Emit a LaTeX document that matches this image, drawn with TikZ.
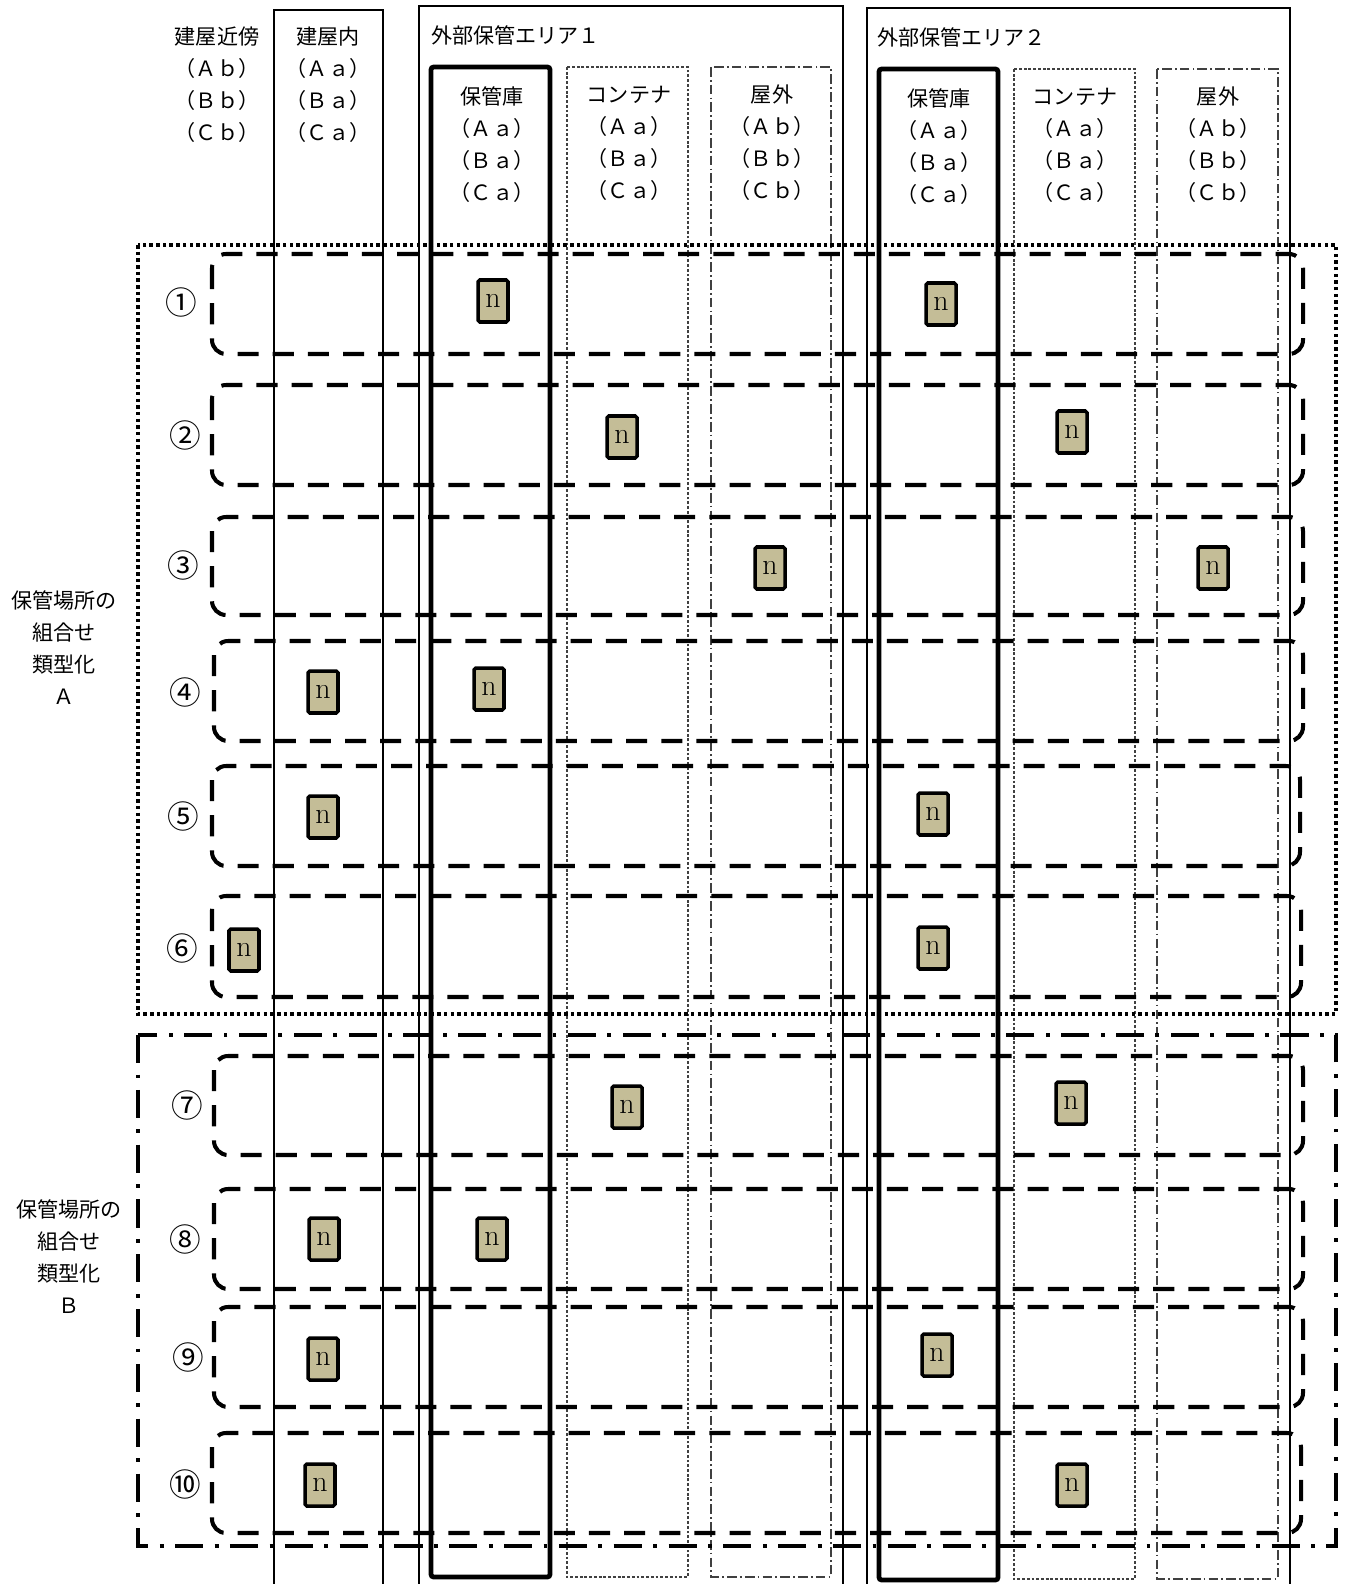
\documentclass[tikz,border=0pt]{standalone}
\usepackage{fontspec}
\newfontfamily\jpfont{Noto Sans CJK JP}
\usepackage{xcolor}
\definecolor{nfill}{HTML}{C4BD97}
\tikzset{
  areabox/.style={draw=black, line width=0.6pt},
  kobox/.style={draw=black, line width=2.7pt, rounded corners=1.5pt},
  contbox/.style={draw=black!75, line width=0.6pt, dash pattern=on 1.6pt off 1.1pt},
  outbox/.style={draw=black!75, line width=0.6pt, dash pattern=on 5.5pt off 1.8pt on 1pt off 1.8pt},
  rowbox/.style={draw=black, line width=2.3pt, rounded corners=8pt, dash pattern=on 12pt off 8pt},
  grpA/.style={draw=black, line width=2pt, dash pattern=on 2pt off 1.8pt},
  grpB/.style={draw=black, line width=2pt, dash pattern=on 16pt off 6.5pt on 2.2pt off 6.5pt},
  nbox/.style={draw=black, line width=2pt, fill=nfill, rounded corners=1pt, minimum width=0.6cm, minimum height=0.84cm, inner sep=0pt, font=\fontsize{17}{17}\selectfont},
  hdr/.style={font=\jpfont\fontsize{12}{18.2}\selectfont, align=center},
  num/.style={font=\jpfont\fontsize{18}{18}\selectfont}
}

\begin{document}
\begin{tikzpicture}[x=0.02cm, y=-0.02cm]
\useasboundingbox (0,0) rectangle (1346,1584);
\clip (0,0) rectangle (1346,1584);
% ---- columns ----
\draw[areabox] (274,10) rectangle (383,1600);
\draw[areabox] (419,6) rectangle (843,1600);
\draw[areabox] (867,8) rectangle (1290,1600);
\draw[kobox] (431,67) rectangle (550,1577);
\draw[contbox] (567,67) rectangle (688,1577);
\draw[outbox] (711,67) rectangle (831,1577);
\draw[kobox] (879,69) rectangle (998,1580);
\draw[contbox] (1014,69) rectangle (1135,1579);
\draw[outbox] (1157,69) rectangle (1278,1579);
% ---- headers ----
\node[hdr] (hKinbo) at (217,85) {建屋近傍\\（Ａｂ）\\（Ｂｂ）\\（Ｃｂ）};
\node[hdr] (hNai) at (328,85) {建屋内\\（Ａａ）\\（Ｂａ）\\（Ｃａ）};
\node[hdr, anchor=west] (hArea1) at (425,35) {外部保管エリア１};
\node[hdr] (hKo1) at (492,145) {保管庫\\（Ａａ）\\（Ｂａ）\\（Ｃａ）};
\node[hdr] (hCont1) at (629,143) {コンテナ\\（Ａａ）\\（Ｂａ）\\（Ｃａ）};
\node[hdr] (hOut1) at (772,143) {屋外\\（Ａｂ）\\（Ｂｂ）\\（Ｃｂ）};
\node[hdr, anchor=west] (hArea2) at (871,37) {外部保管エリア２};
\node[hdr] (hKo2) at (939,147) {保管庫\\（Ａａ）\\（Ｂａ）\\（Ｃａ）};
\node[hdr] (hCont2) at (1075,145) {コンテナ\\（Ａａ）\\（Ｂａ）\\（Ｃａ）};
\node[hdr] (hOut2) at (1218,145) {屋外\\（Ａｂ）\\（Ｂｂ）\\（Ｃｂ）};
% ---- groups ----
\draw[grpA] (138,245) rectangle (1336,1014);
\draw[grpB] (138,1035) rectangle (1336,1546);
\node[hdr] (gA) at (64,648) {保管場所の\\組合せ\\類型化\\Ａ};
\node[hdr] (gB) at (69,1257) {保管場所の\\組合せ\\類型化\\Ｂ};
% ---- rows ----
\draw[rowbox] (212,254) rectangle (1303,354);
\draw[rowbox] (212,385) rectangle (1303,485);
\draw[rowbox] (212,517) rectangle (1303,615);
\draw[rowbox] (214,641) rectangle (1303,741);
\draw[rowbox] (212,766) rectangle (1300,866);
\draw[rowbox] (212,896) rectangle (1301,997);
\draw[rowbox] (214,1056) rectangle (1303,1155);
\draw[rowbox] (214,1189) rectangle (1303,1289);
\draw[rowbox] (214,1307) rectangle (1303,1407);
\draw[rowbox] (212,1433) rectangle (1301,1533);
\node[num] (r1) at (181,302) {①};
\node[num] (r2) at (185,435) {②};
\node[num] (r3) at (183,565) {③};
\node[num] (r4) at (185,692) {④};
\node[num] (r5) at (183,816) {⑤};
\node[num] (r6) at (182,948) {⑥};
\node[num] (r7) at (187,1105) {⑦};
\node[num] (r8) at (185,1239) {⑧};
\node[num] (r9) at (188,1357) {⑨};
\node[num] (r10) at (185,1484) {⑩};
% ---- n ----
\node[nbox] (n1a) at (493,301) {n};
\node[nbox] (n1b) at (941,304) {n};
\node[nbox] (n2a) at (622,437) {n};
\node[nbox] (n2b) at (1072,432) {n};
\node[nbox] (n3a) at (770,568) {n};
\node[nbox] (n3b) at (1213,568) {n};
\node[nbox] (n4a) at (323,692) {n};
\node[nbox] (n4b) at (489,689) {n};
\node[nbox] (n5a) at (323,817) {n};
\node[nbox] (n5b) at (933,814) {n};
\node[nbox] (n6a) at (244,950) {n};
\node[nbox] (n6b) at (933,948) {n};
\node[nbox] (n7a) at (627,1107) {n};
\node[nbox] (n7b) at (1071,1103) {n};
\node[nbox] (n8a) at (324,1239) {n};
\node[nbox] (n8b) at (492,1239) {n};
\node[nbox] (n9a) at (323,1359) {n};
\node[nbox] (n9b) at (937,1355) {n};
\node[nbox] (n10a) at (320,1485) {n};
\node[nbox] (n10b) at (1072,1485) {n};
\end{tikzpicture}
\end{document}
